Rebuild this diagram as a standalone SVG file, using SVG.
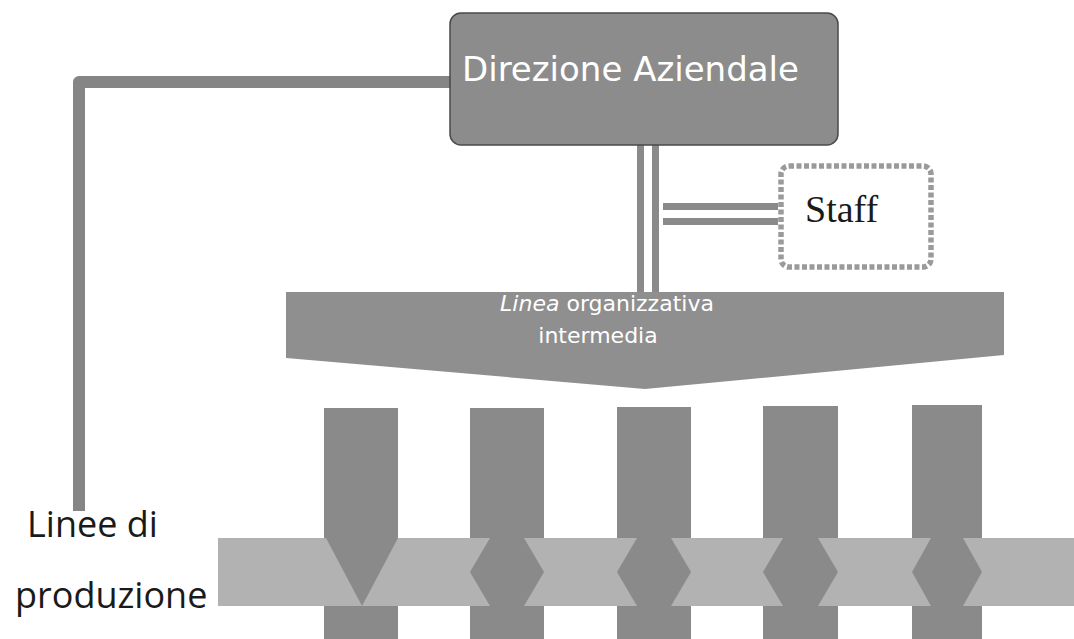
<svg xmlns="http://www.w3.org/2000/svg" width="1074" height="639" viewBox="0 0 1074 639">
<style>
.dark{fill:#8a8a8a}
.band{fill:#b2b2b2}
.line{fill:none;stroke:#858585}
.wt{fill:#ffffff;font-family:"DejaVu Sans",sans-serif}
.bk{fill:#1a1a1a}
</style>
<rect width="1074" height="639" fill="#ffffff"/>
<g id="connectors">
<path class="line" d="M450 82 H79 V511" stroke-width="12" stroke-linejoin="round"/>
<rect x="637" y="145" width="7" height="148" fill="#8a8a8a"/>
<rect x="652" y="145" width="7" height="148" fill="#8a8a8a"/>
<rect x="663" y="203" width="115" height="7" fill="#8a8a8a"/>
<rect x="663" y="218" width="115" height="7" fill="#8a8a8a"/>
</g>
<g id="direzione-aziendale">
<rect x="450" y="13" width="388" height="132" rx="11" fill="#8c8c8c" stroke="#4a4a4a" stroke-width="1.5"/>
<text class="wt" x="462" y="81" font-size="34">Direzione Aziendale</text>
</g>
<g id="staff">
<rect x="781" y="166" width="150" height="101" rx="8" fill="#ffffff" stroke="#9a9a9a" stroke-width="5.5" stroke-dasharray="5 2.5"/>
<text x="805" y="222" font-family="Liberation Serif, serif" font-size="38" class="bk">Staff</text>
</g>
<g id="linea-intermedia">
<polygon points="286,292 1004,292 1004,355 645,389 286,358" fill="#8f8f8f"/>
<text class="wt" x="607" y="311" font-size="22" text-anchor="middle"><tspan font-style="italic">Linea</tspan> organizzativa</text>
<text class="wt" x="598" y="343" font-size="22" text-anchor="middle">intermedia</text>
</g>
<g id="linee-produzione">
<rect class="band" x="218" y="538" width="856" height="68"/>
<rect class="dark" x="324" y="408" width="74" height="130"/>
<polygon class="dark" points="326,538 398,538 362,606"/>
<rect class="dark" x="324" y="606" width="74" height="33"/>
<rect class="dark" x="470" y="408" width="74" height="130"/>
<polygon class="dark" points="490,538 524,538 544,572 524,606 490,606 470,572"/>
<rect class="dark" x="470" y="606" width="74" height="33"/>
<rect class="dark" x="617" y="407" width="74" height="131"/>
<polygon class="dark" points="637,538 671,538 691,572 671,606 637,606 617,572"/>
<rect class="dark" x="617" y="606" width="74" height="33"/>
<rect class="dark" x="763" y="406" width="75" height="132"/>
<polygon class="dark" points="783,538 818,538 838,572 818,606 783,606 763,572"/>
<rect class="dark" x="763" y="606" width="75" height="33"/>
<rect class="dark" x="912" y="405" width="70" height="133"/>
<polygon class="dark" points="931,538 963,538 982,572 963,606 931,606 912,572"/>
<rect class="dark" x="912" y="606" width="70" height="33"/>
</g>
<g id="label-linee">
<text x="27" y="537" font-family="Open Sans, sans-serif" font-size="36" class="bk">Linee di</text>
<text x="15" y="608" font-family="Open Sans, sans-serif" font-size="36" class="bk">produzione</text>
</g>
</svg>
